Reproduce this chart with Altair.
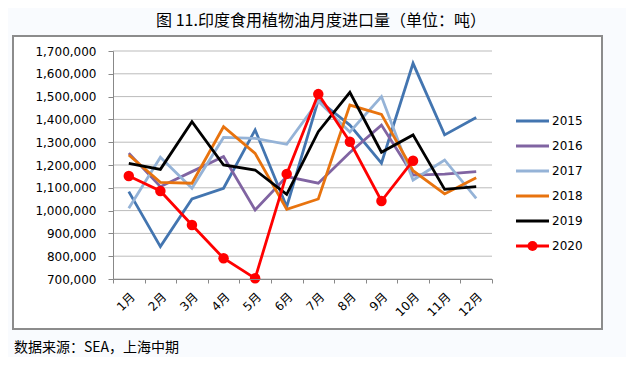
import altair as alt
import pandas as pd

months = ["1月", "2月", "3月", "4月", "5月", "6月", "7月", "8月", "9月", "10月", "11月", "12月"]
years = ["2015", "2016", "2017", "2018", "2019", "2020"]
colors = ["#4375B0", "#8064A2", "#95B3D7", "#E8730E", "#000000", "#FF0000"]

v2015 = [1083000, 842000, 1051000, 1098000, 1354000, 1017000, 1485000, 1375000, 1208000, 1646000, 1332000, 1408000]
v2016 = [1252000, 1105000, 1171000, 1237000, 1003000, 1149000, 1120000, 1255000, 1375000, 1156000, 1160000, 1171000]
v2017 = [1010000, 1234000, 1098000, 1321000, 1317000, 1291000, 1480000, 1345000, 1500000, 1134000, 1222000, 1054000]
v2018 = [1244000, 1124000, 1120000, 1368000, 1251000, 1006000, 1051000, 1463000, 1422000, 1175000, 1073000, 1144000]
v2019 = [1207000, 1181000, 1390000, 1200000, 1178000, 1071000, 1346000, 1519000, 1256000, 1332000, 1093000, 1105000]
v2020 = [1152000, 1086000, 937000, 791000, 703000, 1161000, 1511000, 1302000, 1042000, 1219000, None, None]

y_ticks = [700000, 800000, 900000, 1000000, 1100000, 1200000, 1300000, 1400000, 1500000, 1600000, 1700000]

title_text = "图 11.印度食用植物油月度进口量（单位：吨）"
source_text = "数据来源：SEA，上海中期"

series = dict(zip(years, [v2015, v2016, v2017, v2018, v2019, v2020]))
rows = []
for yr, vals in series.items():
    for m, v in zip(months, vals):
        if v is not None:
            rows.append({"year": yr, "month": m, "value": v})
df = pd.DataFrame(rows)
leg_df = pd.DataFrame({"year": years})
grid_df = pd.DataFrame({"value": y_ticks})

FONT = "DejaVu Sans, Noto Sans CJK SC"
CJK = "Noto Sans CJK SC"

color = alt.Color("year:N", scale=alt.Scale(domain=years, range=colors), legend=None)

x = alt.X(
    "month:N", sort=months, title=None, bandPosition=0.5,
    scale=alt.Scale(type="band", domain=months, paddingInner=0, paddingOuter=0),
    axis=alt.Axis(tickBand="extent", labelAngle=-45, labelFont=FONT, labelFontSize=12,
                  labelColor="#000000", domainColor="#888888", tickColor="#888888",
                  tickSize=4, labelPadding=8, grid=False, zindex=1),
)
yscale = alt.Scale(domain=[700000, 1700000], nice=False, zero=False)
y = alt.Y(
    "value:Q", title=None, scale=yscale,
    axis=alt.Axis(values=y_ticks, labelExpr="format(datum.value, ',')", labelFont=FONT, labelFontSize=12,
                  labelColor="#000000", domainColor="#888888", tickColor="#888888",
                  tickSize=5, labelPadding=12, grid=False, zindex=1),
)

frame = alt.Chart(leg_df.head(1)).mark_rect(fill="white", stroke="#8C8C8C", strokeWidth=2).encode(
    x=alt.value(-100), x2=alt.value(489), y=alt.value(-15), y2=alt.value(278)
)

grid = alt.Chart(grid_df).mark_rule(color="#BBBBBB", strokeWidth=1).encode(
    y=y, x=alt.value(0), x2=alt.value(379)
)

base = alt.Chart(df)
lines = base.mark_line(strokeWidth=2.8).encode(
    x=x, y=y, color=color, order=alt.Order("year:N")
)
pts = base.transform_filter(alt.datum.year == "2020").mark_point(
    filled=True, size=110, opacity=1
).encode(x=x, y=y, color=color)

leg_y = alt.Y("year:N", scale=alt.Scale(type="point", domain=years, range=[70, 195], padding=0), axis=None)
leg_lines = alt.Chart(leg_df).mark_rule(strokeWidth=2.8).encode(
    x=alt.value(403), x2=alt.value(436), y=leg_y, color=color
)
leg_pt = alt.Chart(leg_df).transform_filter(alt.datum.year == "2020").mark_point(
    filled=True, size=100, opacity=1
).encode(x=alt.value(419.5), y=leg_y, color=color)
leg_text = alt.Chart(leg_df).mark_text(align="left", baseline="middle", font=FONT, fontSize=12, color="#000000").encode(
    x=alt.value(439), y=leg_y, text="year:N"
)

title = alt.Chart(leg_df.head(1)).mark_text(align="center", baseline="middle", font=CJK, fontSize=16, color="#000000").encode(
    x=alt.value(208), y=alt.value(-30), text=alt.value(title_text)
)
source = alt.Chart(leg_df.head(1)).mark_text(align="left", baseline="middle", font=CJK, fontSize=14, color="#000000").encode(
    x=alt.value(-99), y=alt.value(297), text=alt.value(source_text)
)

main = alt.layer(grid, lines, pts)
legend = alt.layer(leg_lines, leg_pt, leg_text)

chart = alt.layer(frame, main, legend, title, source).resolve_scale(y="independent").properties(
    width=379, height=228,
    autosize="none",
    padding={"left": 105, "top": 43, "right": 134, "bottom": 78},
    background="#F9FBFE",
).configure_view(stroke=None)

chart.save("out.html", embed_options={"renderer": "svg", "actions": False})
